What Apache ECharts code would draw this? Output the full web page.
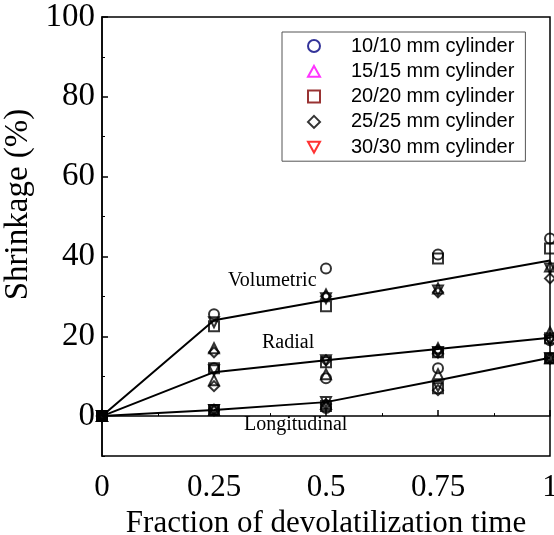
<!DOCTYPE html>
<html>
<head>
<meta charset="utf-8">
<script src="https://cdn.jsdelivr.net/npm/echarts@6/dist/echarts.min.js"></script>
<style>html,body{margin:0;padding:0;background:#fff}#c{width:554px;height:535px}</style>
</head>
<body>
<div id="c"></div>
<script>
// ---- data ----
var xs = [0, 0.25, 0.5, 0.75, 1];
var xTickLabels = ['0', '0.25', '0.5', '0.75', '1'];
var yTickLabels = [0, 20, 40, 60, 80, 100];
var seriesNames = ['10/10 mm cylinder', '15/15 mm cylinder', '20/20 mm cylinder', '25/25 mm cylinder', '30/30 mm cylinder'];

var volumetric10 = [0, 25.5, 37, 40.5, 44.5];
var volumetric15 = [0, 17, 30.5, 32, 37.5];
var volumetric20 = [0, 22.5, 27.5, 39.5, 42];
var volumetric25 = [0, 16, 30, 31, 34.5];
var volumetric30 = [0, 23.5, 29.5, 31.5, 37];

var radial10 = [0, 12, 9.5, 16, 19];
var radial15 = [0, 9, 10.5, 17, 21];
var radial20 = [0, 12, 13.5, 16, 19.5];
var radial25 = [0, 7.5, 14, 16.5, 19.5];
var radial30 = [0, 11.5, 14, 16, 19];

var longitudinal10 = [0, 1.5, 2, 12, 14.5];
var longitudinal15 = [0, 1.5, 3, 10.5, 14.5];
var longitudinal20 = [0, 1.5, 2.5, 7, 14.5];
var longitudinal25 = [0, 1.5, 3, 6.5, 14.5];
var longitudinal30 = [0, 1.5, 3.5, 7.5, 14.5];

var volumetricFit = [0, 24, 29, 34, 39];
var radialFit = [0, 11, 14, 16.8, 19.6];
var longitudinalFit = [0, 1.5, 3.5, 9, 14.6];

var lineLabels = ['Volumetric', 'Radial', 'Longitudinal'];

// ---- build ----
var groups = [
  [volumetric10, radial10, longitudinal10],
  [volumetric15, radial15, longitudinal15],
  [volumetric20, radial20, longitudinal20],
  [volumetric25, radial25, longitudinal25],
  [volumetric30, radial30, longitudinal30]
];
var symbols = ['circle', 'path://M5,0 L10,9 L0,9 Z', 'rect', 'path://M5,0 L10,5 L5,10 L0,5 Z', 'path://M0,0 L10,0 L5,9 Z'];
var sizes = [10, 10, 10, 10, 10];
var legendColors = ['#000080', '#ff00ff', '#800000', '#000000', '#ff0000'];

function pts(arr) { return xs.map(function (x, i) { return [x, arr[i]]; }); }

var series = [];
[volumetricFit, radialFit, longitudinalFit].forEach(function (f, k) {
  series.push({
    name: 'fit' + k, type: 'line', data: pts(f), symbol: 'none',
    lineStyle: { color: '#000', width: 2 }, silent: true, z: 1, animation: false
  });
});
groups.forEach(function (g, i) {
  var d = [];
  g.forEach(function (arr) { d = d.concat(pts(arr)); });
  series.push({
    name: seriesNames[i], type: 'scatter', data: d,
    symbol: symbols[i], symbolSize: sizes[i],
    itemStyle: { color: 'rgba(255,255,255,0)', borderColor: '#000', borderWidth: 2 },
    clip: false, z: 3, animation: false
  });
});

var chart = echarts.init(document.getElementById('c'), null, { renderer: 'canvas' });
var serif = 'Liberation Serif';
chart.setOption({
  animation: false,
  grid: { left: 102, right: 4, top: 17, bottom: 79, outerBoundsMode: 'none', containLabel: false,
    show: true, borderColor: '#000', borderWidth: 1.5, backgroundColor: 'transparent' },
  legend: {
    orient: 'vertical', left: 282, top: 32,
    padding: [4, 11, 4, 25], itemGap: 5.3,
    itemWidth: 12, itemHeight: 12,
    backgroundColor: '#fff', borderColor: '#555', borderWidth: 1,
    textStyle: { fontFamily: 'Liberation Sans', fontSize: 20, color: '#000', padding: [0, 0, 0, 26] },
    data: seriesNames.map(function (n, i) {
      return { name: n, itemStyle: { color: '#fff', borderColor: legendColors[i], borderWidth: 2 } };
    })
  },
  xAxis: {
    type: 'value', min: 0, max: 1, interval: 0.25,
    axisLine: { lineStyle: { color: '#000', width: 1.5 } },
    axisTick: { inside: true, length: 6, lineStyle: { color: '#000', width: 1.5 } },
    minorTick: { show: true, splitNumber: 2, length: 3, lineStyle: { color: '#000', width: 1 } },
    splitLine: { show: false },
    axisLabel: { fontFamily: serif, fontSize: 31, color: '#000', margin: 16,
      formatter: function (v) { var i = xs.indexOf(v); return i >= 0 ? xTickLabels[i] : ''; } },
    name: 'Fraction of devolatilization time', nameLocation: 'middle', nameGap: 52,
    nameTextStyle: { fontFamily: serif, fontSize: 31, color: '#000' }
  },
  yAxis: [{
    type: 'value', min: -10, max: 100, interval: 10,
    axisLine: { lineStyle: { color: '#000', width: 1.5 } },
    axisTick: { inside: true, length: 6, customValues: yTickLabels, lineStyle: { color: '#000', width: 1.5 } },
    splitLine: { show: false },
    axisLabel: { fontFamily: serif, fontSize: 33, color: '#000', margin: 7, customValues: yTickLabels },
    name: 'Shrinkage (%)', nameLocation: 'middle', nameGap: 60,
    nameTextStyle: { fontFamily: serif, fontSize: 33, color: '#000', padding: [0, 0, 0, 64] }
  }, {
    type: 'value', min: -10, max: 100, interval: 10, position: 'left',
    axisLine: { show: false },
    axisTick: { inside: true, length: 3, customValues: [-10, 10, 30, 50, 70, 90], lineStyle: { color: '#000', width: 1 } },
    axisLabel: { show: false }, splitLine: { show: false }
  }],
  graphic: [
    { type: 'text', left: 228, top: 271, style: { text: lineLabels[0], font: '20px "Liberation Serif"', fill: '#000' } },
    { type: 'text', left: 262, top: 333, style: { text: lineLabels[1], font: '20px "Liberation Serif"', fill: '#000' } },
    { type: 'text', left: 244, top: 415, style: { text: lineLabels[2], font: '20px "Liberation Serif"', fill: '#000' } }
  ],
  series: series
});
</script>
</body>
</html>
